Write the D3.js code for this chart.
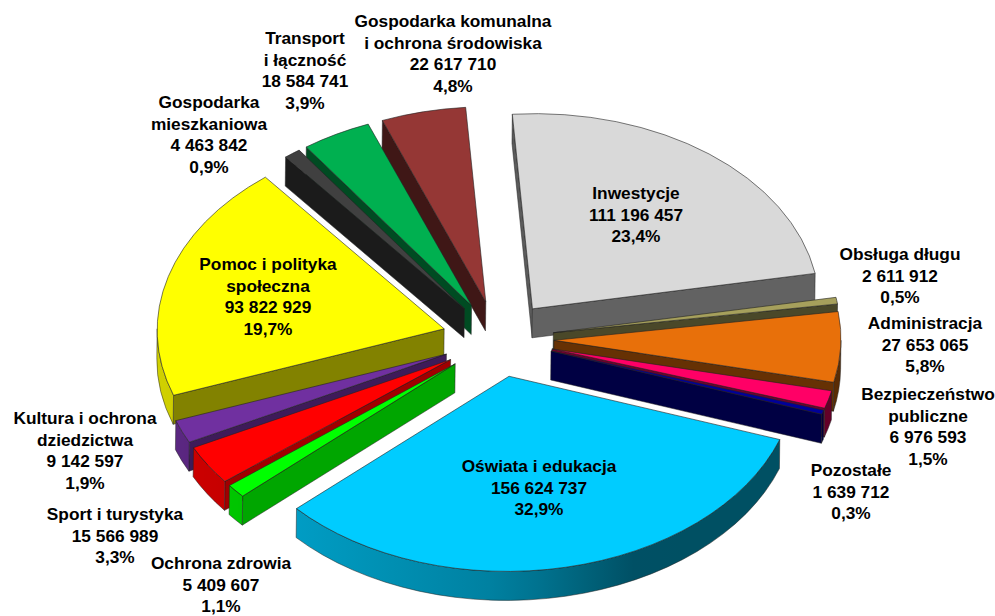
<html>
	<head>
		<meta charset="utf-8">
		<title>Wydatki</title>
		<style>
			html, body { margin: 0; padding: 0; background: #fff; }
			svg { display: block; }
			text { font-family: "Liberation Sans", Arial, sans-serif; font-weight: bold; font-size: 17.3px; fill: #000; }
			path { vector-effect: non-scaling-stroke; }
		</style>
	</head>
	<body>

		<div id="chart"></div>

		<script src="https://cdn.jsdelivr.net/npm/d3@7"></script>
		<script>
			// slice names, clockwise from the top, split the way the labels wrap
			var nameLines = [
				["Inwestycje"],
				["Obsługa długu"],
				["Administracja"],
				["Bezpieczeństwo", "publiczne"],
				["Pozostałe"],
				["Oświata i edukacja"],
				["Ochrona zdrowia"],
				["Sport i turystyka"],
				["Kultura i ochrona", "dziedzictwa"],
				["Pomoc i polityka", "społeczna"],
				["Gospodarka", "mieszkaniowa"],
				["Transport", "i łączność"],
				["Gospodarka komunalna", "i ochrona środowiska"]
			];
			var values = [
				111196457, 2611912, 27653065, 6976593, 1639712, 156624737, 5409607,
				15566989, 9142597, 93822929, 4463842, 18584741, 22617710
			];
			// shares as printed on the chart
			var shares = [
				"23,4%", "0,5%", "5,8%", "1,5%", "0,3%", "32,9%", "1,1%",
				"3,3%", "1,9%", "19,7%", "0,9%", "3,9%", "4,8%"
			];
			var colors = [
				"#d9d9d9", "#a6a05c", "#e8700a", "#ff0066", "#000099", "#00ccff", "#00ff00",
				"#ff0000", "#7030a0", "#ffff00", "#404040", "#00b050", "#953735"
			];

			// chart geometry
			var width = 995;
			var height = 616;
			var cx = 498;
			var cy = 339;
			var radius = 287;
			var tilt = 0.68;      // vertical squash of the pie
			var depth = 29;       // wall height on screen
			var explode = 56;     // every slice is pulled out by this much
			var lean = -0.7;      // the original leans a little to the right at the top
			var firstAngle = -4.5 * Math.PI / 180;

			// label centre x and first line centre y, same order as the slices
			var labelX = [636, 900, 925, 928, 851, 539, 221, 115, 85, 268, 209, 305, 453];
			var labelY = [193, 254, 323, 394, 470, 466, 563, 514, 418, 264, 102, 38, 21];
			var lineGap = 21.7;

			var locale = d3.formatLocale({ decimal: ",", thousands: " ", grouping: [3], currency: ["", ""] });
			var fmtValue = locale.format(",d");

			var pie = d3.pie().sort(null).startAngle(firstAngle).endAngle(firstAngle + 2 * Math.PI);
			var arcTop = d3.arc().innerRadius(0).outerRadius(radius);

			// how dark the walls get, by which way they face left/right
			var sideShade = d3.scaleLinear().domain([-1, 0.2, 0.7]).range([0.42, 0.45, 0.66]).clamp(true);
			var rimShade = d3.scaleLinear().domain([-1, 0, 0.45, 1]).range([0.82, 0.62, 0.39, 0.39]);

			function darken(color, f) {
				return d3.interpolateRgb("#000", color)(f);
			}

			var slices = pie(values).map(function(d, i) {
				var mid = (d.startAngle + d.endAngle) / 2;
				return {
					i: i,
					a0: d.startAngle,
					a1: d.endAngle,
					mid: mid,
					dx: Math.sin(mid) * explode,
					dy: -Math.cos(mid) * explode * tilt,
					color: colors[i]
				};
			});

			var svg = d3.select("#chart")
				.append("svg")
				.attr("width", width)
				.attr("height", height);
			var defs = svg.append("defs");
			var plot = svg.append("g")
				.attr("transform", "translate(0," + cy + ") skewX(" + lean + ") translate(0," + (-cy) + ")");

			var h = depth / tilt; // wall height in the unsquashed space

			function radialWall(a) {
				var p = d3.path();
				p.moveTo(0, 0);
				p.lineTo(Math.sin(a) * radius, -Math.cos(a) * radius);
				p.lineTo(Math.sin(a) * radius, -Math.cos(a) * radius + h);
				p.lineTo(0, h);
				p.closePath();
				return p.toString();
			}

			function rimWall(a0, a1) {
				var p = d3.path();
				p.arc(0, 0, radius, a0 - Math.PI / 2, a1 - Math.PI / 2, false);
				p.lineTo(Math.sin(a1) * radius, -Math.cos(a1) * radius + h);
				p.arc(0, h, radius, a1 - Math.PI / 2, a0 - Math.PI / 2, true);
				p.closePath();
				return p.toString();
			}

			// back slices first
			var order = slices.slice().sort(function(a, b) { return a.dy - b.dy; });

			order.forEach(function(s) {
				var g = plot.append("g")
					.attr("transform", "translate(" + (cx + s.dx) + "," + (cy + s.dy) + ") scale(1," + tilt + ")");

				// cut faces: only the ones turned towards the viewer
				if (Math.sin(s.a0) < 0) {
					g.append("path")
						.attr("d", radialWall(s.a0))
						.attr("fill", darken(s.color, sideShade(Math.sin(s.a0 - Math.PI / 2))))
						.attr("stroke", "#222").attr("stroke-width", 0.5);
				}
				if (Math.sin(s.a1) > 0) {
					g.append("path")
						.attr("d", radialWall(s.a1))
						.attr("fill", darken(s.color, sideShade(Math.sin(s.a1 + Math.PI / 2))))
						.attr("stroke", "#222").attr("stroke-width", 0.5);
				}

				// curved outer wall, lit from the left
				var lo = Math.max(s.a0, Math.PI / 2);
				var hi = Math.min(s.a1, 3 * Math.PI / 2);
				if (hi > lo) {
					var x0 = d3.min([Math.sin(lo), Math.sin(hi)]) * radius;
					var x1 = d3.max([Math.sin(lo), Math.sin(hi), (lo < Math.PI && hi > Math.PI) ? 0 : -2]) * radius;
					var grad = defs.append("linearGradient")
						.attr("id", "rim" + s.i)
						.attr("gradientUnits", "userSpaceOnUse")
						.attr("x1", x0).attr("x2", x1).attr("y1", 0).attr("y2", 0);
					d3.range(0, 1.001, 0.1).forEach(function(t) {
						var x = x0 + (x1 - x0) * t;
						grad.append("stop")
							.attr("offset", t)
							.attr("stop-color", darken(s.color, rimShade(x / radius)));
					});
					g.append("path")
						.attr("d", rimWall(lo, hi))
						.attr("fill", "url(#rim" + s.i + ")")
						.attr("stroke", "#222").attr("stroke-width", 0.5);
				}

				g.append("path")
					.attr("d", arcTop({ startAngle: s.a0, endAngle: s.a1 }))
					.attr("fill", s.color)
					.attr("stroke", "#222").attr("stroke-width", 0.6);
			});

			// labels: name lines, value, share
			var labels = svg.append("g").selectAll("text")
				.data(values)
				.enter().append("text")
				.attr("text-anchor", "middle")
				.attr("x", function(d, i) { return labelX[i]; })
				.attr("y", function(d, i) { return labelY[i]; });

			labels.each(function(d, i) {
				var lines = nameLines[i].concat([fmtValue(d), shares[i]]);
				d3.select(this).selectAll("tspan")
					.data(lines)
					.enter().append("tspan")
					.attr("x", labelX[i])
					.attr("y", function(l, j) { return labelY[i] + j * lineGap; })
					.attr("dy", "0.35em")
					.text(function(l) { return l; });
			});
		</script>

	</body>
</html>
